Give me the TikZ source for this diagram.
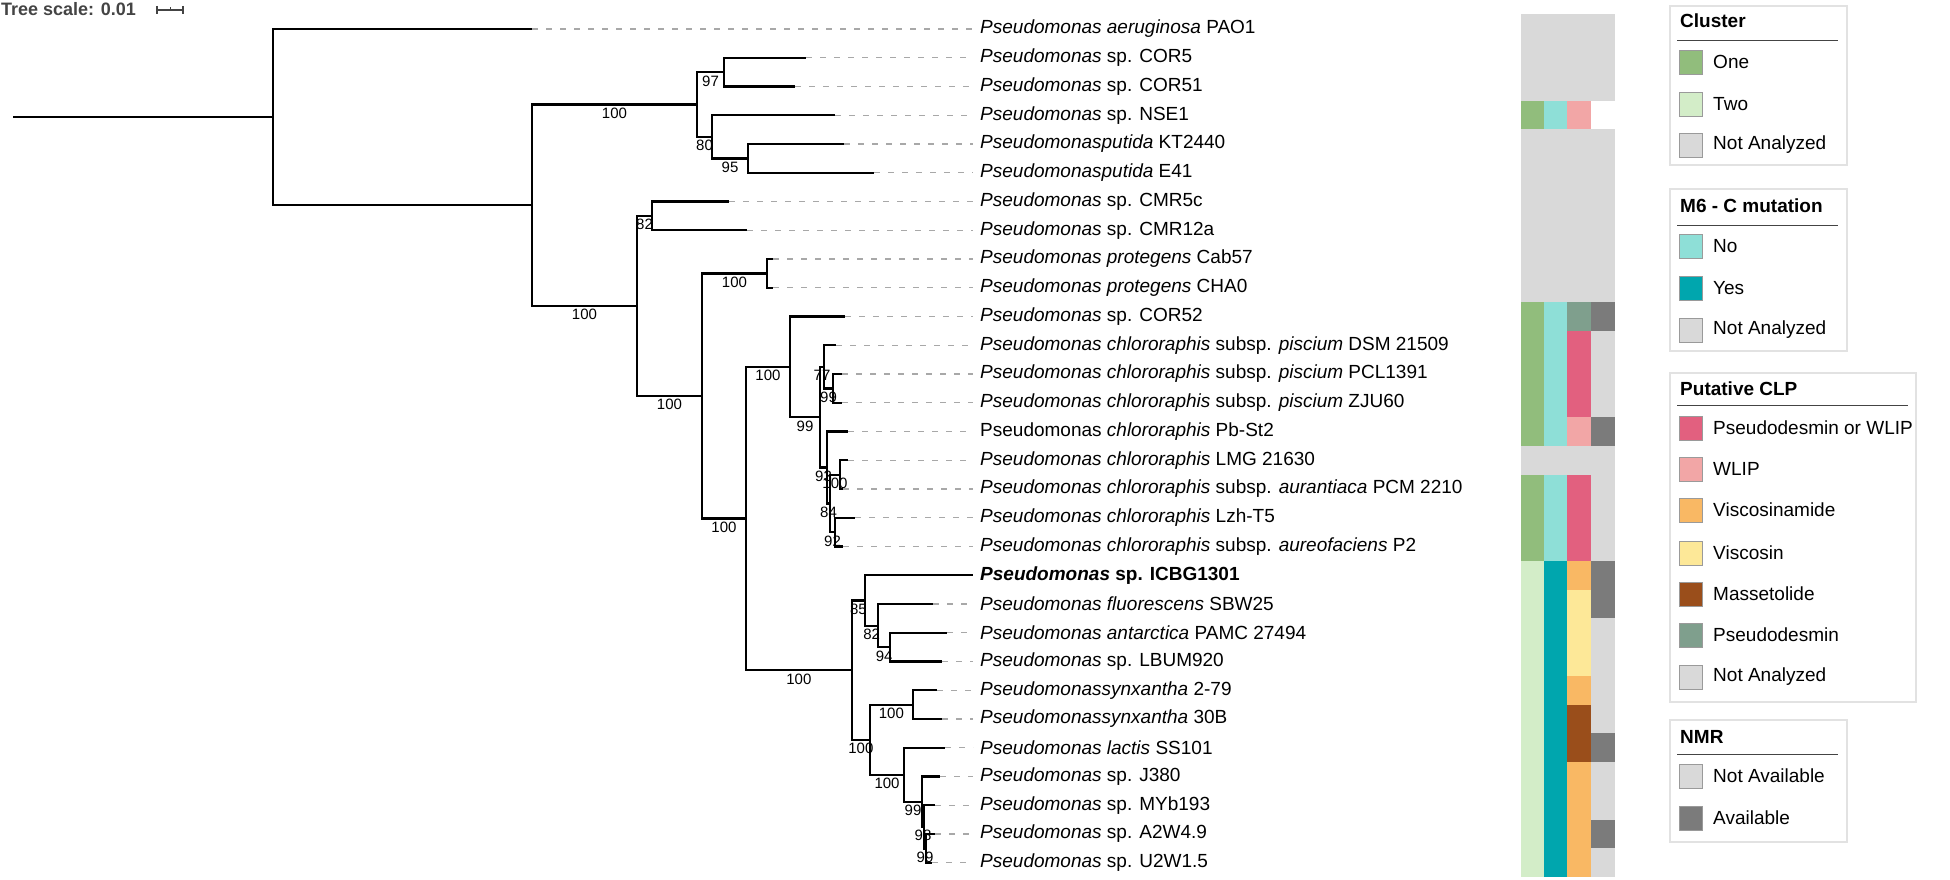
\documentclass[tikz,border=0pt]{standalone}
\usepackage{fontspec}
\setmainfont{Liberation Sans}
\definecolor{na}{HTML}{D9D9D9}
\definecolor{cone}{HTML}{91BD7C}
\definecolor{ctwo}{HTML}{D3EDC8}
\definecolor{mno}{HTML}{8EDFD7}
\definecolor{myes}{HTML}{00A6AE}
\definecolor{pdw}{HTML}{E2607F}
\definecolor{wlip}{HTML}{F2A6A6}
\definecolor{vam}{HTML}{F9B864}
\definecolor{vin}{HTML}{FDE898}
\definecolor{mas}{HTML}{9A4E1B}
\definecolor{pdm}{HTML}{7F9F8D}
\definecolor{nmra}{HTML}{7B7B7B}
\definecolor{dashgray}{HTML}{A8A8A8}
\definecolor{legborder}{HTML}{E2E2E2}
\definecolor{swborder}{HTML}{9A9A9A}
\definecolor{scalegray}{HTML}{444444}
\begin{document}
\begin{tikzpicture}[x=1pt,y=-1pt,
  br/.style={line width=2.2pt,black},
  leafdash/.style={line width=1.4pt,draw=dashgray,dash pattern=on 6pt off 8pt},
  lab/.style={anchor=west,inner xsep=7pt,inner ysep=0pt,font=\fontsize{19}{19}\selectfont},
  bs/.style={anchor=north,inner sep=0pt,yshift=-2.5pt,font=\fontsize{15}{15}\selectfont},
  legtitle/.style={anchor=west,inner sep=0pt,font=\fontsize{19}{19}\selectfont\bfseries},
  legtext/.style={anchor=west,inner sep=0pt,font=\fontsize{19}{19}\selectfont},
  legbox/.style={draw=legborder,line width=1.2pt},
  legline/.style={draw=scalegray,line width=1pt},
  sw/.style={draw=swborder,line width=0.8pt}
]
\useasboundingbox (0,0) rectangle (1950,880);

% ---------- tree scale ----------
\node[anchor=west,inner sep=0pt,text=scalegray,font=\fontsize{18}{18}\selectfont\bfseries] (ts) at (1,9) {Tree scale: 0.01};
\coordinate (sb1) at (157,10);
\coordinate (sb2) at (183,10);
\draw[scalegray,line width=1.5pt] (sb1) -- (sb2);
\draw[scalegray,line width=1.5pt] ([yshift=4pt]sb1) -- ([yshift=-4pt]sb1);
\draw[scalegray,line width=1.5pt] ([yshift=4pt]sb2) -- ([yshift=-4pt]sb2);
\draw[scalegray,line width=1pt] (170,10) -- (170,7);

% ---------- internal nodes ----------
\coordinate (rs) at (13,117.1);
\coordinate (R0) at (273,117.1);
\coordinate (N1) at (532,205.2);
\coordinate (N2) at (697,104.5);
\coordinate (C1) at (724,72.1);
\coordinate (D1) at (712,136.8);
\coordinate (E1) at (748,158.4);
\coordinate (N3) at (637,305.9);
\coordinate (M1) at (652,215.9);
\coordinate (N4) at (702,395.9);
\coordinate (P1) at (767,273.4);
\coordinate (N5) at (746,518.4);
\coordinate (N6) at (790,366.8);
\coordinate (N7) at (820,417.1);
\coordinate (Q1) at (824,366.8);
\coordinate (Q2) at (833,388.4);
\coordinate (N8) at (827,467.4);
\coordinate (N9) at (830,503.4);
\coordinate (Q3) at (840,474.6);
\coordinate (Q4) at (835,532.1);
\coordinate (N10) at (851.7,670);
\coordinate (N11) at (865,600.4);
\coordinate (N12) at (878.3,625.6);
\coordinate (N13) at (890,647.1);
\coordinate (N14) at (870,739.7);
\coordinate (N15) at (912.7,704.6);
\coordinate (N16) at (904,774.7);
\coordinate (N17) at (922,801.7);
\coordinate (N18) at (924,826.8);
\coordinate (N19) at (926,848.4);

% ---------- leaf tips ----------
\foreach \i/\tx in {0/532,1/806,2/795,3/835,4/844,5/874,6/729,7/747,8/773,9/773,
  10/845,11/836,12/842,13/842,14/848,15/848,16/843,17/855,18/843,19/973,
  20/933,21/947,22/942,23/937,24/942,25/945,26/940,27/935,28/935,29/932}
  {\coordinate (t\i) at (\tx,{29+28.75*\i});}

% ---------- branches ----------
\draw[br] (rs) -- (R0);
\draw[br] (R0) |- (t0);
\draw[br] (R0) |- (N1);
\draw[br] (N1) |- node[bs,pos=.75]{100} (N2);
\draw[br] (N1) |- node[bs,pos=.75]{100} (N3);
\draw[br] (N2) |- node[bs,pos=.75]{97} (C1);
\draw[br] (N2) |- node[bs,pos=.75]{80} (D1);
\draw[br] (C1) |- (t1);
\draw[br] (C1) |- (t2);
\draw[br] (D1) |- (t3);
\draw[br] (D1) |- node[bs,pos=.75]{95} (E1);
\draw[br] (E1) |- (t4);
\draw[br] (E1) |- (t5);
\draw[br] (N3) |- node[bs,pos=.75]{82} (M1);
\draw[br] (N3) |- node[bs,pos=.75]{100} (N4);
\draw[br] (M1) |- (t6);
\draw[br] (M1) |- (t7);
\draw[br] (N4) |- node[bs,pos=.75]{100} (P1);
\draw[br] (N4) |- node[bs,pos=.75]{100} (N5);
\draw[br] (P1) |- (t8);
\draw[br] (P1) |- (t9);
\draw[br] (N5) |- node[bs,pos=.75]{100} (N6);
\draw[br] (N5) |- node[bs,pos=.75]{100} (N10);
\draw[br] (N6) |- (t10);
\draw[br] (N6) |- node[bs,pos=.75]{99} (N7);
\draw[br] (N7) |- node[bs,pos=.75]{77} (Q1);
\draw[br] (N7) |- node[bs,pos=.75]{93} (N8);
\draw[br] (Q1) |- (t11);
\draw[br] (Q1) |- node[bs,pos=.75]{99} (Q2);
\draw[br] (Q2) |- (t12);
\draw[br] (Q2) |- (t13);
\draw[br] (N8) |- (t14);
\draw[br] (N8) |- node[bs,pos=.75]{84} (N9);
\draw[br] (N9) |- node[bs,pos=.75]{100} (Q3);
\draw[br] (N9) |- node[bs,pos=.75]{92} (Q4);
\draw[br] (Q3) |- (t15);
\draw[br] (Q3) |- (t16);
\draw[br] (Q4) |- (t17);
\draw[br] (Q4) |- (t18);
\draw[br] (N10) |- node[bs,pos=.75]{85} (N11);
\draw[br] (N10) |- node[bs,pos=.75]{100} (N14);
\draw[br] (N11) |- (t19);
\draw[br] (N11) |- node[bs,pos=.75]{82} (N12);
\draw[br] (N12) |- (t20);
\draw[br] (N12) |- node[bs,pos=.75]{94} (N13);
\draw[br] (N13) |- (t21);
\draw[br] (N13) |- (t22);
\draw[br] (N14) |- node[bs,pos=.75]{100} (N15);
\draw[br] (N14) |- node[bs,pos=.75]{100} (N16);
\draw[br] (N15) |- (t23);
\draw[br] (N15) |- (t24);
\draw[br] (N16) |- (t25);
\draw[br] (N16) |- node[bs,pos=.75]{99} (N17);
\draw[br] (N17) |- (t26);
\draw[br] (N17) |- node[bs,pos=.75]{98} (N18);
\draw[br] (N18) |- (t27);
\draw[br] (N18) |- node[bs,pos=.75]{99} (N19);
\draw[br] (N19) |- (t28);
\draw[br] (N19) |- (t29);

% ---------- leaf labels ----------
\foreach \i/\txt in {
 0/{\textit{Pseudomonas aeruginosa} PAO1},
 1/{\textit{Pseudomonas} sp. COR5},
 2/{\textit{Pseudomonas} sp. COR51},
 3/{\textit{Pseudomonas} sp. NSE1},
 4/{\textit{Pseudomonasputida} KT2440},
 5/{\textit{Pseudomonasputida} E41},
 6/{\textit{Pseudomonas} sp. CMR5c},
 7/{\textit{Pseudomonas} sp. CMR12a},
 8/{\textit{Pseudomonas protegens} Cab57},
 9/{\textit{Pseudomonas protegens} CHA0},
 10/{\textit{Pseudomonas} sp. COR52},
 11/{\textit{Pseudomonas chlororaphis} subsp. \textit{piscium} DSM 21509},
 12/{\textit{Pseudomonas chlororaphis} subsp. \textit{piscium} PCL1391},
 13/{\textit{Pseudomonas chlororaphis} subsp. \textit{piscium} ZJU60},
 14/{Pseudomonas \textit{chlororaphis} Pb-St2},
 15/{\textit{Pseudomonas chlororaphis} LMG 21630},
 16/{\textit{Pseudomonas chlororaphis} subsp. \textit{aurantiaca} PCM 2210},
 17/{\textit{Pseudomonas chlororaphis} Lzh-T5},
 18/{\textit{Pseudomonas chlororaphis} subsp. \textit{aureofaciens} P2},
 19/{\bfseries\textit{Pseudomonas} sp. ICBG1301},
 20/{\textit{Pseudomonas fluorescens} SBW25},
 21/{\textit{Pseudomonas antarctica} PAMC 27494},
 22/{\textit{Pseudomonas} sp. LBUM920},
 23/{\textit{Pseudomonassynxantha} 2-79},
 24/{\textit{Pseudomonassynxantha} 30B},
 25/{\textit{Pseudomonas lactis} SS101},
 26/{\textit{Pseudomonas} sp. J380},
 27/{\textit{Pseudomonas} sp. MYb193},
 28/{\textit{Pseudomonas} sp. A2W4.9},
 29/{\textit{Pseudomonas} sp. U2W1.5}}
 {\node[lab] (l\i) at (973,{29+28.75*\i}) {\txt};}
\foreach \i in {0,...,18,20,21,...,29}
 {\draw[leafdash] (t\i) -- (l\i.west);}

% ---------- heatmap ----------
\foreach \i/\a/\b/\c/\d in {
 0/na/na/na/na,1/na/na/na/na,2/na/na/na/na,3/cone/mno/wlip/white,
 4/na/na/na/na,5/na/na/na/na,6/na/na/na/na,7/na/na/na/na,8/na/na/na/na,9/na/na/na/na,
 10/cone/mno/pdm/nmra,11/cone/mno/pdw/na,12/cone/mno/pdw/na,13/cone/mno/pdw/na,
 14/cone/mno/wlip/nmra,15/na/na/na/na,16/cone/mno/pdw/na,17/cone/mno/pdw/na,
 18/cone/mno/pdw/na,19/ctwo/myes/vam/nmra,20/ctwo/myes/vin/nmra,21/ctwo/myes/vin/na,
 22/ctwo/myes/vin/na,23/ctwo/myes/vam/na,24/ctwo/myes/mas/na,25/ctwo/myes/mas/nmra,
 26/ctwo/myes/vam/na,27/ctwo/myes/vam/na,28/ctwo/myes/vam/nmra,29/ctwo/myes/vam/na}
{
 \pgfmathsetmacro\ya{29+28.75*\i-14.5}
 \pgfmathsetmacro\yb{29+28.75*\i+14.5}
 \fill[\a] (1521,\ya) rectangle (1544.3,\yb);
 \fill[\b] (1544,\ya) rectangle (1567.3,\yb);
 \fill[\c] (1567,\ya) rectangle (1591.3,\yb);
 \fill[\d] (1591,\ya) rectangle (1615,\yb);
}

% ---------- legends ----------
% Cluster
\draw[legbox] (1670,6) rectangle (1847,165);
\node[legtitle] (lt1) at (1680,21) {Cluster};
\draw[legline] (1677,41) -- (1838,41);
\foreach \y/\col/\txt in {62/cone/One,104/ctwo/Two,145/na/Not Analyzed}
 {\draw[sw,fill=\col] (1679,\y-12) rectangle (1702,\y+12);
  \node[legtext] at (1713,\y) {\txt};}
% M6-C
\draw[legbox] (1670,189) rectangle (1847,351);
\node[legtitle] (lt2) at (1680,206) {M6 - C mutation};
\draw[legline] (1677,225) -- (1838,225);
\foreach \y/\col/\txt in {246/mno/No,288/myes/Yes,330/na/Not Analyzed}
 {\draw[sw,fill=\col] (1679,\y-12) rectangle (1702,\y+12);
  \node[legtext] at (1713,\y) {\txt};}
% CLP
\draw[legbox] (1670,373) rectangle (1916,702);
\node[legtitle] (lt3) at (1680,389) {Putative CLP};
\draw[legline] (1677,405) -- (1908,405);
\foreach \y/\col/\txt in {428/pdw/Pseudodesmin or WLIP,469/wlip/WLIP,510/vam/Viscosinamide,
  553/vin/Viscosin,594/mas/Massetolide,635/pdm/Pseudodesmin,677/na/Not Analyzed}
 {\draw[sw,fill=\col] (1679,\y-12) rectangle (1702,\y+12);
  \node[legtext] at (1713,\y) {\txt};}
% NMR
\draw[legbox] (1670,720) rectangle (1847,842);
\node[legtitle] (lt4) at (1680,737) {NMR};
\draw[legline] (1677,754) -- (1838,754);
\foreach \y/\col/\txt in {776/na/Not Available,818/nmra/Available}
 {\draw[sw,fill=\col] (1679,\y-12) rectangle (1702,\y+12);
  \node[legtext] at (1713,\y) {\txt};}
\end{tikzpicture}
\end{document}
